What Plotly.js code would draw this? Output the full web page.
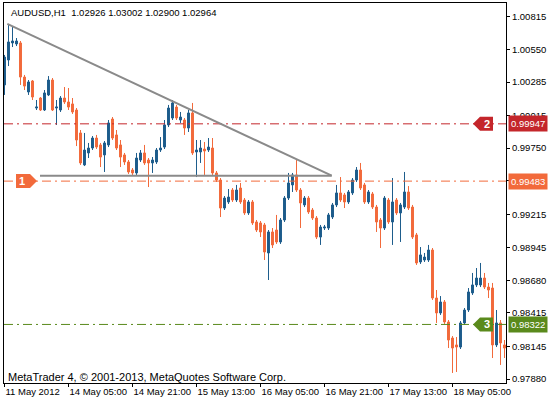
<!DOCTYPE html>
<html><head><meta charset="utf-8">
<script src="https://cdn.plot.ly/plotly-3.0.1.min.js"></script>
<style>html,body{margin:0;padding:0;background:#fff}#chart{width:551px;height:399px}</style>
</head><body><div id="chart"></div><script>
const openP = [1.00262,1.00464,1.00602,1.00594,1.00602,1.00326,1.00205,1.00294,1.00075,1.00156,
1.00059,1.00181,1.00302,1.00075,1.00059,1.00156,1.00124,1.00108,1.00059,0.99873,
0.99614,0.99711,0.99751,0.99832,0.99776,0.99695,0.99776,0.99986,0.99857,0.99776,
0.99695,0.99638,0.99573,0.99549,0.99654,0.99711,0.99654,0.99630,0.99638,0.99735,
0.99759,0.99938,0.99994,1.00083,0.99978,0.99978,0.99913,1.00035,0.99719,0.99719,
0.99743,0.99735,0.99751,0.99549,0.99492,0.99265,0.99314,0.99411,0.99330,0.99427,
0.99330,0.99225,0.99314,0.99152,0.99144,0.99128,0.98901,0.99071,0.99087,0.98990,
0.99168,0.99346,0.99452,0.99533,0.99411,0.99290,0.99346,0.99249,0.99184,0.99030,
0.99103,0.99103,0.99192,0.99290,0.99387,0.99371,0.99314,0.99387,0.99492,0.99573,
0.99452,0.99314,0.99379,0.99273,0.99168,0.99103,0.99330,0.99152,0.99330,0.99225,
0.99273,0.99395,0.99273,0.99047,0.98828,0.98844,0.98844,0.98925,0.98536,0.98415,
0.98504,0.98342,0.98212,0.98156,0.98139,0.98334,0.98439,0.98577,0.98642,0.98642,
0.98698,0.98625,0.98617,0.98156,0.98334,0.98156];
const highP = [1.00505,1.00756,1.00739,1.00642,1.00618,1.00343,1.00302,1.00302,1.00140,1.00164,
1.00221,1.00334,1.00318,1.00140,1.00172,1.00245,1.00237,1.00156,1.00075,0.99897,
0.99873,0.99792,0.99848,0.99857,0.99792,0.99808,0.99978,1.00002,0.99897,0.99816,
0.99711,0.99654,0.99589,0.99711,0.99735,0.99776,0.99670,0.99678,0.99751,0.99840,
0.99978,1.00100,1.00140,1.00100,1.00043,0.99994,1.00059,1.00116,0.99816,0.99816,
0.99800,0.99832,0.99832,0.99565,0.99508,0.99362,0.99419,0.99427,0.99452,0.99468,
0.99346,0.99330,0.99330,0.99168,0.99160,0.99144,0.99087,0.99103,0.99209,0.99184,
0.99362,0.99549,0.99549,0.99662,0.99427,0.99362,0.99362,0.99265,0.99200,0.99128,
0.99128,0.99225,0.99306,0.99452,0.99516,0.99387,0.99411,0.99508,0.99597,0.99630,
0.99468,0.99411,0.99395,0.99290,0.99184,0.99362,0.99346,0.99508,0.99346,0.99306,
0.99557,0.99443,0.99290,0.99063,0.98949,0.98901,0.98966,0.98941,0.98601,0.98552,
0.98520,0.98358,0.98228,0.98220,0.98350,0.98455,0.98617,0.98739,0.98779,0.98820,
0.98739,0.98658,0.98658,0.98439,0.98358,0.98196];
const lowP = [1.00181,1.00415,1.00569,1.00577,1.00262,1.00221,1.00181,1.00140,1.00059,1.00051,
1.00051,1.00172,1.00051,0.99938,1.00043,1.00108,1.00059,1.00027,0.99767,0.99614,
0.99605,0.99670,0.99735,0.99743,0.99597,0.99557,0.99759,0.99816,0.99735,0.99597,
0.99614,0.99541,0.99533,0.99533,0.99638,0.99614,0.99435,0.99549,0.99622,0.99719,
0.99743,0.99921,0.99978,0.99978,0.99954,0.99857,0.99881,0.99695,0.99516,0.99630,
0.99533,0.99719,0.99533,0.99476,0.99192,0.99249,0.99298,0.99314,0.99314,0.99298,
0.99209,0.99209,0.99128,0.99071,0.99030,0.98844,0.98682,0.98941,0.98974,0.98974,
0.99152,0.99330,0.99395,0.99395,0.99103,0.99273,0.99217,0.99168,0.99014,0.98966,
0.99087,0.99087,0.99176,0.99273,0.99314,0.99265,0.99298,0.99371,0.99476,0.99411,
0.99298,0.99298,0.99257,0.99071,0.98941,0.99087,0.99136,0.98966,0.99209,0.98990,
0.99257,0.99249,0.99014,0.98804,0.98812,0.98828,0.98828,0.98520,0.98334,0.98399,
0.98326,0.98131,0.97929,0.97937,0.98123,0.98318,0.98423,0.98561,0.98625,0.98625,
0.98609,0.98536,0.98050,0.98139,0.97994,0.98050];
const closeP = [1.00488,1.00610,1.00618,1.00618,1.00326,1.00253,1.00286,1.00164,1.00083,1.00059,
1.00197,1.00302,1.00059,1.00083,1.00156,1.00124,1.00083,1.00043,0.99816,0.99630,
0.99735,0.99751,0.99832,0.99759,0.99678,0.99792,0.99954,0.99832,0.99751,0.99678,
0.99638,0.99557,0.99549,0.99670,0.99711,0.99630,0.99630,0.99654,0.99735,0.99751,
0.99938,1.00075,1.00116,0.99994,1.00002,0.99913,1.00035,0.99711,0.99735,0.99751,
0.99727,0.99759,0.99549,0.99492,0.99265,0.99346,0.99354,0.99330,0.99411,0.99314,
0.99225,0.99314,0.99144,0.99087,0.99071,0.98909,0.99071,0.98966,0.98990,0.99168,
0.99346,0.99468,0.99533,0.99411,0.99306,0.99346,0.99233,0.99184,0.99030,0.99111,
0.99111,0.99209,0.99290,0.99387,0.99330,0.99314,0.99395,0.99492,0.99573,0.99427,
0.99314,0.99395,0.99273,0.99152,0.99103,0.99346,0.99152,0.99314,0.99225,0.99290,
0.99395,0.99265,0.99030,0.98820,0.98885,0.98868,0.98925,0.98536,0.98415,0.98504,
0.98342,0.98196,0.98131,0.98139,0.98334,0.98439,0.98585,0.98642,0.98698,0.98698,
0.98625,0.98601,0.98156,0.98334,0.98172,0.98131];

const tickBars = [0,16,32,48,64,80,96,112];
const tickLabels = ['11 May 2012','14 May 05:00','14 May 21:00','15 May 13:00','16 May 05:00','16 May 21:00','17 May 13:00','18 May 05:00'];
const priceTicks = [1.00815,1.00550,1.00285,1.00015,0.99750,0.99485,0.99215,0.98945,0.98680,0.98415,0.98145,0.97880];
const levelNames = ['1','2','3'];
const levelPrices = [0.99483,0.99947,0.98322];
const levelColors = ['#f26a3b','#c4262b','#5a8a1c'];
const trendX = [0.7, 81.8];
const trendY = [1.00756, 0.99527];
const supportX = [8.875, 81.8];
const supportY = [0.99527, 0.99527];
const titleText = 'AUDUSD,H1\u00a0\u00a01.02926 1.03002 1.02900 1.02964';
const footerText = 'MetaTrader 4, © 2001-2013, MetaQuotes Software Corp.';

const bars = openP.map((_, i) => i);
const BLUE = '#1e5d8c', ORANGE = '#f26a3b';
const FONT = 'Liberation Sans, Arial, sans-serif';

const traces = [{
  type: 'candlestick', x: bars, open: openP, high: highP, low: lowP, close: closeP,
  increasing: {line: {color: BLUE, width: 1}, fillcolor: BLUE},
  decreasing: {line: {color: ORANGE, width: 1}, fillcolor: ORANGE},
  whiskerwidth: 0, hoverinfo: 'none', showlegend: false
}];

const shapes = [];
levelPrices.forEach((p, k) => {
  shapes.push({type: 'line', xref: 'paper', x0: 0, x1: 1, yref: 'y', y0: p, y1: p,
    line: {color: levelColors[k], width: 1, dash: '9px,4px,2px,4px'}, layer: 'above'});
});
shapes.push({type: 'line', xref: 'x', yref: 'y', x0: trendX[0], x1: trendX[1], y0: trendY[0], y1: trendY[1],
  line: {color: '#8a8a8a', width: 2}, layer: 'above'});
shapes.push({type: 'line', xref: 'x', yref: 'y', x0: supportX[0], x1: supportX[1], y0: supportY[0], y1: supportY[1],
  line: {color: '#8a8a8a', width: 2}, layer: 'above'});
const tagAnchors = [8.125, 117.125, 117.125];
const tagPaths = ['M0,0 L-7,7 L-21,7 L-21,-7 L-7,-7 Z', 'M0,0 L7,7 L20,7 L20,-7 L7,-7 Z', 'M0,0 L7,7 L20,7 L20,-7 L7,-7 Z'];
const tagTextX = [4.4, 120.6, 120.6];
levelPrices.forEach((p, k) => {
  shapes.push({type: 'path', xref: 'x', yref: 'y', xsizemode: 'pixel', ysizemode: 'pixel',
    xanchor: tagAnchors[k], yanchor: p, path: tagPaths[k],
    fillcolor: levelColors[k], line: {width: 0}, layer: 'above'});
});

const annotations = [];
levelPrices.forEach((p, k) => {
  annotations.push({xref: 'x', yref: 'y', x: tagTextX[k], y: p, text: '<b>' + levelNames[k] + '</b>',
    showarrow: false, font: {family: FONT, size: 11, color: '#ffffff'}, xanchor: 'center', yanchor: 'middle'});
  annotations.push({xref: 'paper', yref: 'y', x: 1, xshift: 2, y: p, text: p.toFixed(5), showarrow: false,
    xanchor: 'left', yanchor: 'middle', bgcolor: levelColors[k], borderpad: 2,
    font: {family: FONT, size: 9.5, color: '#ffffff'}});
});
annotations.push({xref: 'paper', yref: 'paper', x: 0.01, y: 0.976, text: titleText, showarrow: false,
  xanchor: 'left', yanchor: 'middle', font: {family: FONT, size: 9.5, color: '#000000'}});
annotations.push({xref: 'paper', yref: 'paper', x: 0.004, y: 0.016, text: footerText, showarrow: false,
  xanchor: 'left', yanchor: 'middle', font: {family: FONT, size: 11, color: '#000000'}});

const layout = {
  width: 551, height: 399,
  margin: {l: 4, r: 45, t: 3, b: 16, pad: 0},
  paper_bgcolor: '#ffffff', plot_bgcolor: '#ffffff',
  font: {family: FONT, size: 9.5, color: '#000000'},
  showlegend: false,
  xaxis: {range: [-0.125, 125.375], tickvals: tickBars, ticktext: tickLabels, tickangle: 0,
    ticks: 'outside', ticklen: 3, tickcolor: '#000', ticklabelposition: 'outside right',
    showline: true, linecolor: '#000', linewidth: 1, mirror: true,
    showgrid: false, zeroline: false, rangeslider: {visible: false}, fixedrange: true,
    tickfont: {family: FONT, size: 9.5, color: '#000'}},
  yaxis: {range: [0.978477, 1.009257], side: 'right', tickvals: priceTicks,
    ticktext: priceTicks.map(v => v.toFixed(5)), ticks: 'outside', ticklen: 3, tickcolor: '#000',
    showline: true, linecolor: '#000', linewidth: 1, mirror: true,
    showgrid: false, zeroline: false, fixedrange: true,
    tickfont: {family: FONT, size: 9.5, color: '#000'}},
  shapes: shapes, annotations: annotations
};

Plotly.newPlot('chart', traces, layout, {staticPlot: true, displayModeBar: false});
</script></body></html>
